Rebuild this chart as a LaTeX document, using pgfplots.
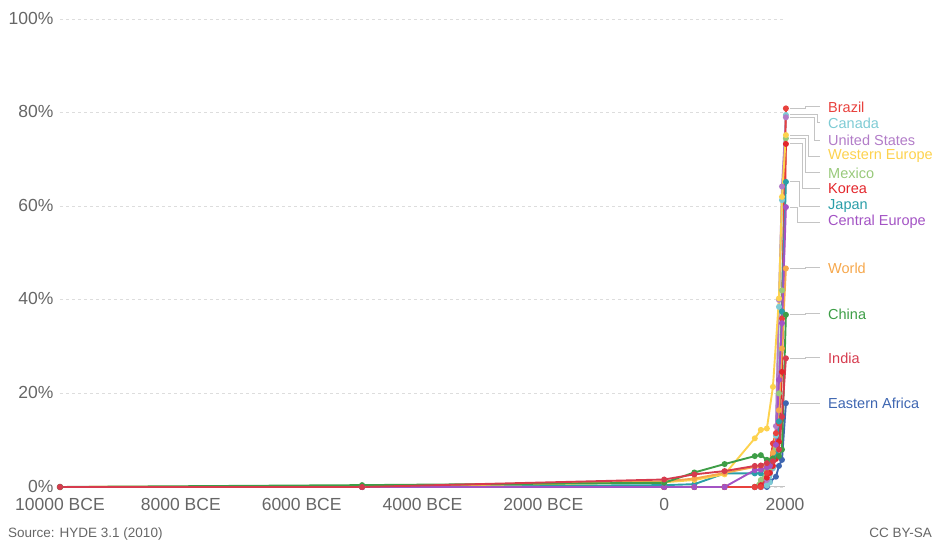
\documentclass[border=0pt]{standalone}
\usepackage{pgfplots}
\pgfplotsset{compat=1.18}
\usepackage{fontspec}
\setmainfont{Liberation Sans}

\definecolor{cBrazil}{HTML}{E8413D}
\definecolor{cCanada}{HTML}{7ECBD4}
\definecolor{cUS}{HTML}{B27CC8}
\definecolor{cWEur}{HTML}{FDD24E}
\definecolor{cMexico}{HTML}{98C97A}
\definecolor{cKorea}{HTML}{E3262C}
\definecolor{cJapan}{HTML}{2A9EA8}
\definecolor{cCEur}{HTML}{A353C4}
\definecolor{cWorld}{HTML}{F6A74B}
\definecolor{cChina}{HTML}{3E9E47}
\definecolor{cIndia}{HTML}{D63B4E}
\definecolor{cEAfr}{HTML}{3E66B1}
\definecolor{tickc}{HTML}{666666}
\definecolor{gridc}{HTML}{DDDDDD}
\definecolor{connc}{HTML}{C4C4C4}

% label with elbow connector: final value, label y, elbow offset, colour, text
\newcommand{\lab}[5]{%
  \draw[connc, line width=1pt] ([xshift=5pt]axis cs:2000,#1) -| ([xshift=#3]axis cs:2000,#2) -- ([xshift=35pt]axis cs:2000,#2);
  \node[anchor=west, inner sep=0pt, text=#4, font=\fontsize{14.5}{16}\selectfont] at ([xshift=43pt]axis cs:2000,#2) {#5};}

\begin{document}
\begin{tikzpicture}
\useasboundingbox (0,0) rectangle (935pt,540pt);
\begin{axis}[
    at={(60pt,53pt)}, anchor=south west,
    scale only axis, width=725pt, height=468pt,
    xmin=-10000, xmax=2000, ymin=0, ymax=100,
    axis line style={draw=none}, tick style={draw=none},
    scaled x ticks=false,
    xtick={-10000,-8000,-6000,-4000,-2000,0,2000},
    xticklabels={10000 BCE,8000 BCE,6000 BCE,4000 BCE,2000 BCE,0,2000},
    ytick={0,20,40,60,80,100},
    yticklabels={0\%,20\%,40\%,60\%,80\%,100\%},
    ymajorgrids, grid style={dashed, gridc, line width=0.9pt},
    clip=false,
    tick label style={font=\fontsize{17.5}{20}\selectfont, text=tickc},
    xticklabel style={yshift=-8pt},
    yticklabel style={xshift=-3pt, yshift=1pt},
    /pgf/number format/assume math mode=true,
    every axis plot/.append style={line width=1.9pt, mark=*, mark size=2pt},
]
\draw[connc, line width=1pt] (axis cs:-10000,0) -- (axis cs:2000,0);

\addplot[cEAfr] coordinates {(-10000,0) (-5000,0) (0,0) (500,0) (1000,0) (1500,0) (1600,0) (1700,0) (1750,1.1) (1850,2.2) (1900,4.5) (1950,5.8) (2015,17.9)};
\addplot[cCanada] coordinates {(-10000,0) (-5000,0) (0,0) (500,0) (1000,0) (1500,0) (1600,0) (1700,0.3) (1750,1) (1800,4) (1850,11) (1900,38.5) (1950,61.3) (2015,79.5)};
\addplot[cUS] coordinates {(-10000,0) (-5000,0) (0,0) (500,0) (1000,0) (1500,0) (1600,0) (1700,1.5) (1750,3.5) (1800,5.5) (1850,13) (1900,40) (1950,64.2) (2015,79)};
\addplot[cMexico] coordinates {(-10000,0) (-5000,0) (0,0) (500,0) (1000,0) (1500,0) (1600,1.5) (1700,3.5) (1750,4) (1800,6) (1850,8) (1900,20) (1950,42) (2015,74.5)};
\addplot[cKorea] coordinates {(-10000,0) (-5000,0) (0,0) (500,0) (1000,0) (1500,0) (1600,0.4) (1700,2) (1750,3) (1800,4.5) (1850,6) (1900,9.7) (1950,24.6) (2015,73.3)};
\addplot[cBrazil] coordinates {(-10000,0) (-5000,0) (0,0) (500,0) (1000,0) (1500,0) (1600,0) (1700,3) (1750,5) (1800,9.3) (1850,11.5) (1900,13.6) (1950,36) (2015,80.9)};
\addplot[cJapan] coordinates {(-10000,0) (-5000,0) (0,0.4) (500,0.6) (1000,2.9) (1500,2.9) (1600,2.9) (1700,4.5) (1750,5) (1800,6) (1850,7) (1900,14) (1950,37.5) (2015,65.2)};
\addplot[cWEur] coordinates {(-10000,0) (-5000,0.1) (0,1.0) (500,1.5) (1000,2.7) (1500,10.4) (1600,12.2) (1700,12.5) (1800,21.4) (1900,40.3) (1950,62) (2015,75.2)};
\addplot[cWorld] coordinates {(-10000,0) (-5000,0.1) (0,1.2) (500,1.8) (1000,3.0) (1500,4.3) (1600,4.4) (1700,4.6) (1800,7.3) (1900,16.4) (1950,29.6) (2015,46.7)};
\addplot[cCEur] coordinates {(-10000,0) (-5000,0) (0,0) (500,0) (1000,0) (1500,3.6) (1600,3.7) (1700,4.2) (1750,4.5) (1800,6) (1850,9) (1900,22.9) (1950,35) (2015,59.8)};
\addplot[cChina] coordinates {(-10000,0) (-5000,0.4) (0,0.9) (500,3.1) (1000,4.9) (1500,6.6) (1600,6.8) (1700,5.8) (1800,6.1) (1900,6.6) (1950,8) (2015,36.8)};
\addplot[cIndia] coordinates {(-10000,0) (-5000,0) (0,1.6) (500,2.7) (1000,3.4) (1500,4.5) (1600,4.6) (1700,5.1) (1800,5.5) (1900,8) (1950,15) (2015,27.5)};

\lab{80.9}{81.2}{20pt}{cBrazil}{Brazil}
\lab{79.5}{77.8}{32pt}{cCanada}{Canada}
\lab{79.0}{74.1}{29pt}{cUS}{United States}
\lab{75.2}{70.7}{23pt}{cWEur}{Western Europe}
\lab{74.5}{67.1}{20pt}{cMexico}{Mexico}
\lab{73.3}{63.7}{17pt}{cKorea}{Korea}
\lab{65.2}{60.0}{14pt}{cJapan}{Japan}
\lab{59.8}{56.6}{12pt}{cCEur}{Central Europe}
\lab{46.7}{46.8}{20pt}{cWorld}{World}
\lab{36.8}{37.0}{20pt}{cChina}{China}
\lab{27.5}{27.6}{20pt}{cIndia}{India}
\lab{17.9}{17.9}{20pt}{cEAfr}{Eastern Africa}
\end{axis}
\node[anchor=base west, inner sep=0pt, text=tickc, font=\fontsize{13.5}{15}\selectfont] at (8pt,2pt) {Source: HYDE 3.1 (2010)};
\node[anchor=base east, inner sep=0pt, text=tickc, font=\fontsize{13.5}{15}\selectfont] at (932pt,2pt) {CC BY-SA};
\end{tikzpicture}
\end{document}
